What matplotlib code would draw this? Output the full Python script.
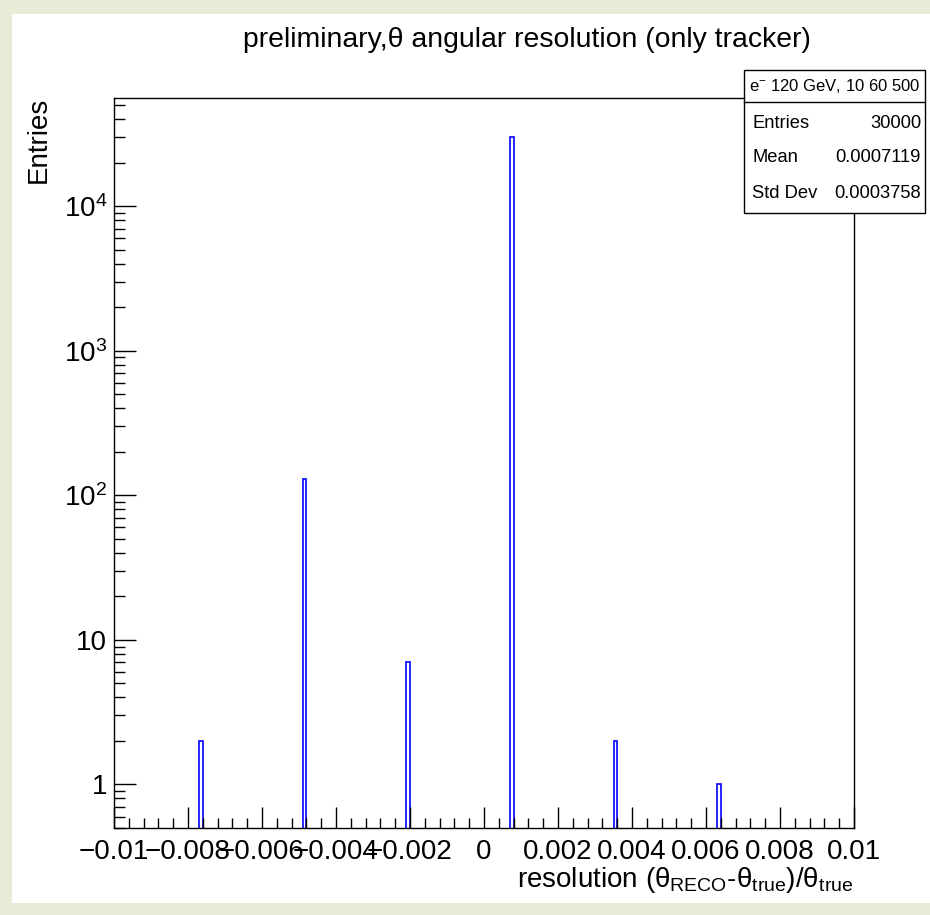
import matplotlib
matplotlib.use("Agg")
import matplotlib.pyplot as plt
from matplotlib.patches import Rectangle
from matplotlib.lines import Line2D
from matplotlib.ticker import FixedLocator, FixedFormatter, AutoMinorLocator, LogLocator, NullFormatter

plt.rcParams["font.family"] = ["Liberation Sans", "DejaVu Sans"]
plt.rcParams["mathtext.fontset"] = "custom"
plt.rcParams["mathtext.rm"] = "Liberation Sans"
plt.rcParams["mathtext.it"] = "Liberation Sans:italic"

# conteudo do histograma (bins nao vazios, largura 0.0001)
bin_low = [-0.0077, -0.0049, -0.0021, 0.0007, 0.0035, 0.0063]
contagens = [2, 129, 7, 29859, 2, 1]
largura_bin = 0.0001

x_ticks = [-0.01, -0.008, -0.006, -0.004, -0.002, 0, 0.002, 0.004, 0.006, 0.008, 0.01]
x_labels = ["\u22120.01", "\u22120.008", "\u22120.006", "\u22120.004", "\u22120.002", "0",
            "0.002", "0.004", "0.006", "0.008", "0.01"]
y_ticks = [1, 10, 100, 1000, 10000]
y_labels = ["1", "10", r"$\mathregular{10^{2}}$", r"$\mathregular{10^{3}}$", r"$\mathregular{10^{4}}$"]

titulo = "preliminary,\u03b8 angular resolution (only tracker)"
cabecalho = "e$^{-}$ 120 GeV, 10 60 500"
stats_nomes = ["Entries", "Mean", "Std Dev"]
stats_valores = ["30000", "0.0007119", "0.0003758"]

W, H = 930, 915
fig = plt.figure(figsize=(W / 100, H / 100), dpi=100)
fig.patch.set_facecolor("#e9ebd7")

# area branca do pad
fig.add_artist(Rectangle((12 / W, 1 - 903 / H), (W - 12) / W, (903 - 14) / H,
                         transform=fig.transFigure, facecolor="white", edgecolor="none", zorder=-1))

ax = fig.add_axes([114 / W, 1 - 828 / H, (854 - 114) / W, (828 - 98) / H])

centros = [b + largura_bin / 2 for b in bin_low]
ax.bar(centros, contagens, width=largura_bin, fill=False, edgecolor="#0000ff", linewidth=1.2)

ax.set_yscale("log")
ax.set_xlim(-0.01, 0.01)
ax.set_ylim(0.5, 5.6e4)

ax.xaxis.set_major_locator(FixedLocator(x_ticks))
ax.xaxis.set_major_formatter(FixedFormatter(x_labels))
ax.xaxis.set_minor_locator(AutoMinorLocator(5))
ax.yaxis.set_major_locator(FixedLocator(y_ticks))
ax.yaxis.set_major_formatter(FixedFormatter(y_labels))
ax.yaxis.set_minor_locator(LogLocator(base=10, subs=range(2, 10), numticks=20))
ax.yaxis.set_minor_formatter(NullFormatter())

ax.tick_params(which="both", direction="in", top=False, right=False, labelsize=20, colors="black")
ax.tick_params(axis="x", which="major", length=15, width=1, pad=8)
ax.tick_params(axis="x", which="minor", length=7.5, width=1)
ax.tick_params(axis="y", which="major", length=16, width=1, pad=5)
ax.tick_params(axis="y", which="minor", length=8, width=1)
for s in ax.spines.values():
    s.set_linewidth(1)

fig.text(527 / W, 1 - 40 / H, titulo, ha="center", va="center", fontsize=20.4)
fig.text(39 / W, 1 - 97 / H, "Entries", rotation=90, ha="center", va="top", fontsize=20)
fig.text(853 / W, 1 - 887 / H,
         r"resolution ($\mathregular{\theta}$$_{\mathregular{RECO}}$-$\mathregular{\theta}$$_{\mathregular{true}}$)/$\mathregular{\theta}$$_{\mathregular{true}}$",
         ha="right", va="baseline", fontsize=20)

# caixa de estatisticas
bx0, bx1, by0, by1, bsep = 744, 925, 70, 213, 102
fig.add_artist(Rectangle((bx0 / W, 1 - by1 / H), (bx1 - bx0) / W, (by1 - by0) / H,
                         transform=fig.transFigure, facecolor="white", edgecolor="black",
                         linewidth=1, zorder=5))
fig.add_artist(Line2D([bx0 / W, bx1 / W], [1 - bsep / H, 1 - bsep / H],
                      transform=fig.transFigure, color="black", linewidth=1, zorder=6))
fig.text((bx0 + bx1) / 2 / W, 1 - 86 / H, cabecalho, ha="center", va="center", fontsize=12, zorder=7)
for i, (nome, valor) in enumerate(zip(stats_nomes, stats_valores)):
    yy = 1 - (123 + i * 35) / H
    fig.text(752 / W, yy, nome, ha="left", va="center", fontsize=13.2, zorder=7)
    fig.text(921 / W, yy, valor, ha="right", va="center", fontsize=13.2, zorder=7)

fig.savefig("out.png", dpi=100, facecolor=fig.get_facecolor())
